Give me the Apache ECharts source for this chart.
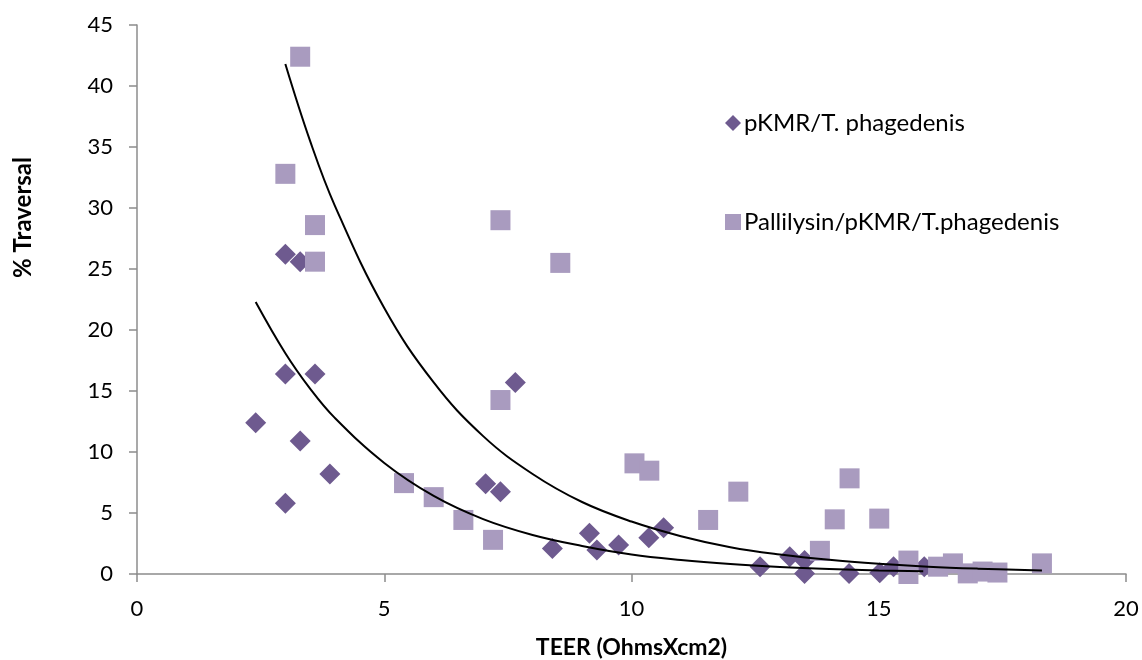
<!DOCTYPE html>
<html>
<head>
<meta charset="utf-8">
<script src="https://cdn.jsdelivr.net/npm/echarts@6/dist/echarts.min.js"></script>
<style>html,body{margin:0;padding:0;background:#fff;}#c{width:1142px;height:660px;}</style>
</head>
<body>
<div id="c"></div>
<script>
// pKMR/T. phagedenis (diamonds): [TEER, % traversal]
const pkmrX = [2.4, 3.0, 3.0, 3.0, 3.3, 3.3, 3.6, 3.9, 7.05, 7.35, 7.65, 8.4, 9.15, 9.3, 9.74, 10.35, 10.65, 12.6, 13.2, 13.5, 13.5, 14.4, 15.02, 15.3, 15.92];
const pkmrY = [12.4, 26.2, 16.4, 5.8, 25.6, 10.9, 16.4, 8.2, 7.4, 6.75, 15.7, 2.1, 3.35, 1.97, 2.38, 2.98, 3.8, 0.6, 1.42, 1.1, 0.05, 0.05, 0.1, 0.6, 0.6];
// Pallilysin/pKMR/T.phagedenis (squares)
const pallX = [3.3, 3.0, 3.6, 3.6, 5.4, 6.0, 6.6, 7.2, 7.35, 7.35, 8.56, 10.06, 10.36, 11.55, 12.16, 13.81, 14.11, 14.41, 15.01, 15.6, 15.6, 16.2, 16.5, 16.8, 17.1, 17.4, 18.3];
const pallY = [42.4, 32.8, 28.6, 25.6, 7.45, 6.3, 4.43, 2.8, 29.0, 14.26, 25.5, 9.07, 8.47, 4.43, 6.75, 1.9, 4.48, 7.84, 4.54, 1.1, 0.0, 0.6, 0.87, 0.05, 0.2, 0.12, 0.87];
// trendlines
const trendPkmrX = [2.4, 3.0, 3.5, 4.0, 5.0, 6.0, 7.0, 8.0, 9.0, 10.0, 11.0, 12.0, 13.0, 14.0, 15.0, 15.9];
const trendPkmrY = [22.3, 18.1, 15.2, 12.8, 9.1, 6.4, 4.5, 3.2, 2.3, 1.6, 1.15, 0.82, 0.58, 0.41, 0.29, 0.22];
const trendPallX = [3.0, 3.5, 4.0, 5.0, 6.0, 7.0, 8.0, 9.0, 10.0, 11.0, 12.0, 13.0, 14.0, 15.0, 16.0, 17.0, 18.3];
const trendPallY = [41.8, 35.5, 30.2, 21.8, 15.7, 11.3, 8.2, 5.9, 4.3, 3.1, 2.2, 1.6, 1.16, 0.84, 0.6, 0.44, 0.29];
const xTicks = [0, 5, 10, 15, 20];
const yTicks = [0, 5, 10, 15, 20, 25, 30, 35, 40, 45];

const zip = (a, b) => a.map((v, i) => [v, b[i]]);
const FONT = 'Lato';
const axisGray = '#8c8c8c';

const chart = echarts.init(document.getElementById('c'));
chart.setOption({
  animation: false,
  backgroundColor: '#fff',
  textStyle: { fontFamily: FONT },
  grid: { left: 137, right: 16, top: 25, bottom: 86, containLabel: false, outerBoundsMode: 'none' },
  xAxis: {
    type: 'value', min: xTicks[0], max: xTicks[xTicks.length - 1], interval: 5,
    name: 'TEER (OhmsXcm2)', nameLocation: 'middle', nameGap: 62,
    nameTextStyle: { fontFamily: FONT, fontWeight: 'bold', fontSize: 23, color: '#000' },
    axisLine: { show: true, lineStyle: { color: axisGray, width: 1.5 } },
    axisTick: { show: true, length: 8, inside: false, lineStyle: { color: axisGray, width: 1.5 } },
    axisLabel: { color: '#000', fontSize: 22, fontFamily: FONT, margin: 24 },
    splitLine: { show: false }
  },
  yAxis: {
    type: 'value', min: yTicks[0], max: yTicks[yTicks.length - 1], interval: 5,
    axisLine: { show: true, lineStyle: { color: axisGray, width: 1.5 } },
    axisTick: { show: true, length: 8, lineStyle: { color: axisGray, width: 1.5 } },
    axisLabel: { color: '#000', fontSize: 22, fontFamily: FONT, margin: 24 },
    splitLine: { show: false }
  },
  legend: {
    orient: 'vertical', left: 720, top: 106, itemGap: 75,
    itemWidth: 16, itemHeight: 16,
    textStyle: { fontFamily: FONT, fontSize: 24, color: '#000', padding: [0, 0, 0, -2] },
    data: [
      { name: 'pKMR/T. phagedenis', icon: 'diamond' },
      { name: 'Pallilysin/pKMR/T.phagedenis', icon: 'rect' }
    ]
  },
  graphic: [{
    type: 'text', left: 11, top: 157, rotation: Math.PI / 2,
    style: { text: '% Traversal', font: 'bold 24px ' + FONT, fill: '#000' }
  }],
  series: [
    {
      name: 'pKMR/T. phagedenis', type: 'scatter', symbol: 'diamond', symbolSize: 21,
      itemStyle: { color: '#6e5a8f', opacity: 1 }, z: 2,
      data: zip(pkmrX, pkmrY)
    },
    {
      name: 'Pallilysin/pKMR/T.phagedenis', type: 'scatter', symbol: 'rect', symbolSize: 20,
      itemStyle: { color: '#a99bbf', opacity: 1 }, z: 3,
      data: zip(pallX, pallY)
    },
    {
      name: 'trend1', type: 'line', data: zip(trendPkmrX, trendPkmrY), smooth: 0.4,
      showSymbol: false, symbol: 'none', lineStyle: { color: '#000', width: 2 }, z: 5,
      silent: true, legendHoverLink: false
    },
    {
      name: 'trend2', type: 'line', data: zip(trendPallX, trendPallY), smooth: 0.4,
      showSymbol: false, symbol: 'none', lineStyle: { color: '#000', width: 2 }, z: 5,
      silent: true, legendHoverLink: false
    }
  ]
});
</script>
</body>
</html>
